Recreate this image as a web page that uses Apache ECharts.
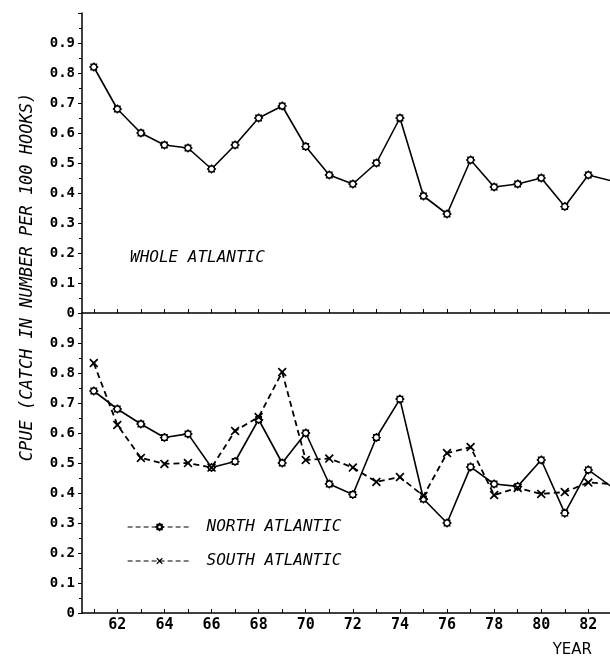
<!DOCTYPE html>
<html>
<head>
<meta charset="utf-8">
<script src="https://cdn.jsdelivr.net/npm/echarts@6/dist/echarts.min.js"></script>
<style>
html,body{margin:0;padding:0;background:#fff;}
#chart{width:610px;height:658px;}
</style>
</head>
<body>
<div id="chart"></div>
<script>
var years = [61,62,63,64,65,66,67,68,69,70,71,72,73,74,75,76,77,78,79,80,81,82,83];
var wholeAtlantic = [0.82,0.68,0.60,0.56,0.55,0.48,0.56,0.65,0.69,0.555,0.46,0.43,0.50,0.65,0.39,0.33,0.51,0.42,0.43,0.45,0.355,0.46,0.44];
var northAtlantic = [0.74,0.68,0.63,0.585,0.597,0.485,0.505,0.645,0.50,0.60,0.43,0.395,0.585,0.713,0.38,0.30,0.487,0.43,0.422,0.51,0.333,0.477,0.42];
var southAtlantic = [0.833,0.627,0.517,0.497,0.50,0.485,0.607,0.653,0.803,0.51,0.515,0.485,0.437,0.453,0.39,0.533,0.553,0.393,0.417,0.397,0.403,0.435,0.43];
var yearLabels = [62,64,66,68,70,72,74,76,78,80,82];
var yearTicks = [61,62,63,64,65,66,67,68,69,70,71,72,73,74,75,76,77,78,79,80,81,82];
var panelLabel = 'WHOLE ATLANTIC';
var yTitle = 'CPUE (CATCH IN NUMBER PER 100 HOOKS)';
var xTitle = 'YEAR';

function pairs(vals){ return years.map(function(y,i){ return [y, vals[i]]; }); }

var starPath = 'path://M-1,-1L1,-1L1,1L-1,1Z M0,-1.42L1.42,0L0,1.42L-1.42,0Z';
var crossPath = 'path://M-1,-0.75L-0.75,-1L0,-0.3L0.75,-1L1,-0.75L0.3,0L1,0.75L0.75,1L0,0.3L-0.75,1L-1,0.75L-0.3,0Z';

var monoB = 'DejaVu Sans Mono';
function yFmt(v){ if (v > 0.95) return ''; if (Math.abs(v) < 1e-9) return '0'; return v.toFixed(1); }

var xCommon = {
  type:'value', min:60.5, max:82.92,
  axisLine:{show:true, onZero:false, lineStyle:{color:'#000', width:1.5}},
  axisTick:{show:true, inside:true, length:4, customValues:yearTicks, lineStyle:{color:'#000', width:1}},
  splitLine:{show:false}
};
var yCommon = {
  type:'value', min:0, max:1.0, interval:0.1,
  axisLine:{show:true, lineStyle:{color:'#000', width:1.5}},
  axisTick:{show:true, length:4, lineStyle:{color:'#000', width:1}},
  minorTick:{show:true, splitNumber:2, length:3, lineStyle:{color:'#000', width:1}},
  splitLine:{show:false},
  axisLabel:{formatter:yFmt, color:'#000', fontFamily:monoB, fontWeight:'bold', fontSize:14, margin:7}
};

var chart = echarts.init(document.getElementById('chart'));
chart.setOption({
  animation:false,
  backgroundColor:'#fff',
  grid:[
    {left:82, top:13, width:528, height:300},
    {left:82, top:313, width:528, height:300}
  ],
  xAxis:[
    Object.assign({}, xCommon, {gridIndex:0, axisLabel:{show:false}}),
    Object.assign({}, xCommon, {gridIndex:1,
      axisLabel:{show:true, customValues:yearLabels, color:'#000', fontFamily:monoB, fontWeight:'bold', fontSize:15, margin:5},
      name:xTitle, nameLocation:'end', nameGap:0,
      nameTextStyle:{fontFamily:'DejaVu Sans', fontSize:15, color:'#000', align:'right', verticalAlign:'top', padding:[30,18,0,0]}
    })
  ],
  yAxis:[
    Object.assign({}, yCommon, {gridIndex:0}),
    Object.assign({}, yCommon, {gridIndex:1})
  ],
  legend:{
    orient:'vertical', left:122, top:514, itemWidth:64, itemHeight:8, itemGap:18,
    textStyle:{fontFamily:monoB, fontStyle:'italic', fontSize:16, color:'#000', padding:[0,0,0,10]},
    data:[
      {name:'NORTH ATLANTIC', lineStyle:{type:[5,3], width:1.2, color:'#000'}},
      {name:'SOUTH ATLANTIC', lineStyle:{type:[5,3], width:1.2, color:'#000'}}
    ]
  },
  graphic:[
    {type:'text', x:130, y:258, style:{text:panelLabel, font:'italic 16px "DejaVu Sans Mono"', fill:'#000', textVerticalAlign:'middle'}},
    {type:'text', x:28, y:277, rotation:Math.PI/2, style:{text:yTitle, font:'italic 17px "DejaVu Sans Mono"', fill:'#000', textAlign:'center', textVerticalAlign:'middle'}}
  ],
  series:[
    {name:'WHOLE ATLANTIC', type:'line', xAxisIndex:0, yAxisIndex:0, data:pairs(wholeAtlantic),
      symbol:starPath, symbolSize:8, itemStyle:{color:'#fff', borderColor:'#000', borderWidth:1.2},
      lineStyle:{color:'#000', width:1.6}, clip:true},
    {name:'NORTH ATLANTIC', type:'line', xAxisIndex:1, yAxisIndex:1, data:pairs(northAtlantic),
      symbol:starPath, symbolSize:8, itemStyle:{color:'#fff', borderColor:'#000', borderWidth:1.2},
      lineStyle:{color:'#000', width:1.6}, clip:true},
    {name:'SOUTH ATLANTIC', type:'line', xAxisIndex:1, yAxisIndex:1, data:pairs(southAtlantic),
      symbol:crossPath, symbolSize:9, itemStyle:{color:'#000', borderColor:'#000', borderWidth:0},
      lineStyle:{color:'#000', width:1.8, type:[6,4]}, clip:true}
  ]
});
</script>
</body>
</html>
